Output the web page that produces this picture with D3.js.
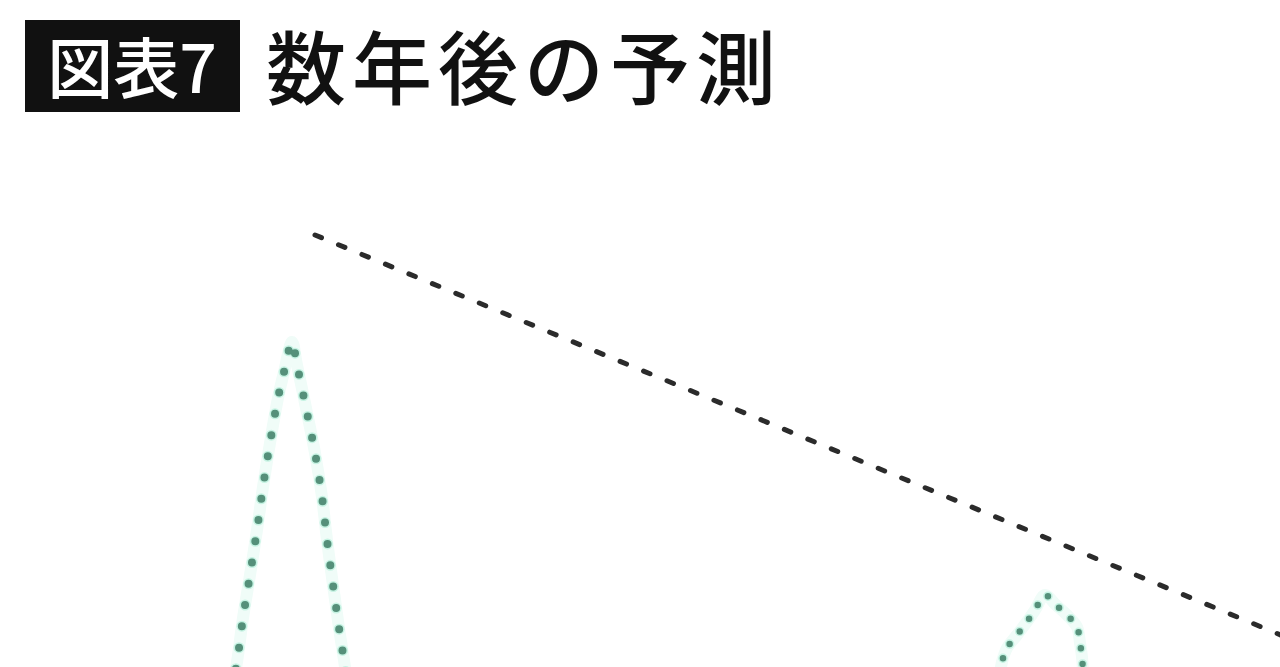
<!DOCTYPE html>
<html>
<head>
<meta charset="utf-8">
<script src="https://cdn.jsdelivr.net/npm/d3@7"></script>
<style>
  html, body { margin: 0; padding: 0; background: #fff; overflow: hidden; }
  svg { display: block; }
</style>
</head>
<body>
<svg id="chart" width="1280" height="667"></svg>
<script>
// ---- data (chart units: x 0..128, y 0..100) ----
const titleLabel = "図表7";
const titleText = "数年後の予測";

// declining trend line (black dashed)
const trendX = [31.5, 130];
const trendY = [86.4, 4.8];

// first (current) distribution peak - green dotted
const peak1X = [23.2, 23.7, 24.3, 25.0, 25.7, 26.3, 27.0, 27.8, 28.4, 29.2, 29.7, 30.6, 31.5, 32.2, 32.7, 33.3, 33.9, 34.5, 34.8];
const peak1Y = [-4.6, 1.0, 9.8, 18.4, 27.4, 36.0, 44.8, 53.8, 59.0, 65.0, 60.4, 51.8, 42.8, 34.0, 25.4, 16.4, 7.8, 0, -4.6];

// second (future) distribution peak - green dotted
const peak2X = [99.8, 100.2, 100.7, 101.7, 102.6, 103.5, 104.5, 105.6, 106.7, 107.7, 108.0, 108.2, 108.4];
const peak2Y = [-4.6, 1.0, 3.8, 6.4, 8.8, 11.4, 14.4, 12.4, 10.4, 8.0, 4.8, 2.0, -4.6];

// ---- drawing ----
const W = 1280, H = 667;
const svg = d3.select("#chart");

const x = d3.scaleLinear().domain([0, 128]).range([0, W]);
const y = d3.scaleLinear().domain([0, 100]).range([667, 167]);

const zip = (xs, ys) => xs.map((v, i) => [v, ys[i]]);

// title
const tg = svg.append("g");
tg.append("rect")
  .attr("x", 25).attr("y", 20).attr("width", 215).attr("height", 92)
  .attr("fill", "#111");
tg.append("text")
  .attr("x", 132).attr("y", 93)
  .attr("text-anchor", "middle")
  .attr("fill", "#fff")
  .attr("font-family", "'Noto Sans CJK JP', 'Noto Sans CJK SC', sans-serif")
  .attr("font-size", 66)
  .attr("font-weight", 500)
  .text(titleLabel);
tg.append("text")
  .attr("x", 266).attr("y", 98)
  .attr("fill", "#111")
  .attr("font-family", "'Noto Sans CJK JP', 'Noto Sans CJK SC', sans-serif")
  .attr("font-size", 80)
  .attr("font-weight", 500)
  .attr("letter-spacing", 6)
  .text(titleText);

const line = d3.line().x(d => x(d[0])).y(d => y(d[1]));
const smooth = d3.line().x(d => x(d[0])).y(d => y(d[1])).curve(d3.curveCatmullRom.alpha(0.5));

// trend
svg.append("path")
  .datum(zip(trendX, trendY))
  .attr("d", line)
  .attr("fill", "none")
  .attr("stroke", "#2b2b2b")
  .attr("stroke-width", 5)
  .attr("stroke-linecap", "round")
  .attr("stroke-dasharray", "7 18.4");

// peaks
function peak(xs, ys, gap, size) {
  const data = zip(xs, ys);
  svg.append("path").datum(data).attr("d", smooth)
    .attr("fill", "none").attr("stroke", "#f0fcf8").attr("stroke-width", 12);
  svg.append("path").datum(data).attr("d", smooth)
    .attr("fill", "none").attr("stroke", "#b4f0da").attr("stroke-width", size + 3).attr("opacity", 0.7)
    .attr("stroke-linecap", "round").attr("stroke-dasharray", `0 ${gap}`);
  svg.append("path").datum(data).attr("d", smooth)
    .attr("fill", "none").attr("stroke", "#55907a").attr("stroke-width", size)
    .attr("stroke-linecap", "round").attr("stroke-dasharray", `0 ${gap}`);
}
peak(peak1X, peak1Y, 21.5, 8);
peak(peak2X, peak2Y, 16, 6.5);
</script>
</body>
</html>
